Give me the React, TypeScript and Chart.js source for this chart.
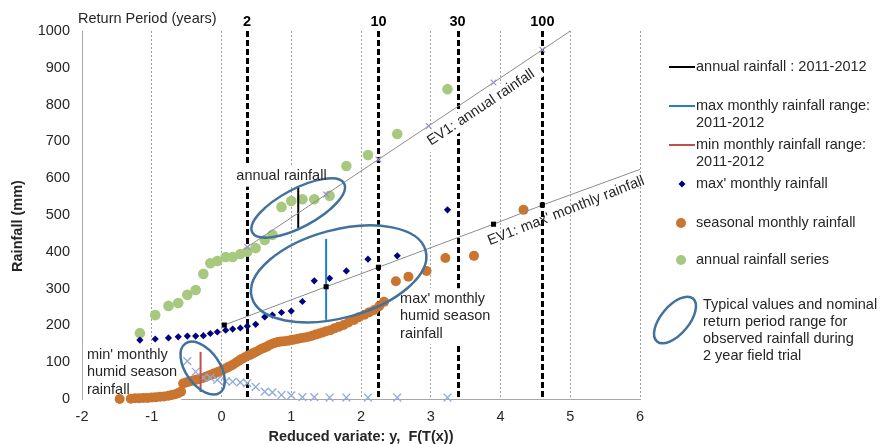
import React, { useEffect, useRef } from 'react';
import { Chart, registerables } from 'chart.js';

Chart.register(...registerables);

const FONT = '"Liberation Sans", Arial, sans-serif';
const TEXT_COLOR = '#262626';

// Return periods (years) marked by dashed lines on the top axis
const returnPeriods = [2, 10, 30, 100];

// Plotting positions (reduced variate) of the ranked 25-year series
const plotPosX = [-1.17, -0.95, -0.76, -0.62, -0.49, -0.37, -0.26, -0.16, -0.06, 0.06, 0.16, 0.27, 0.37, 0.49, 0.62, 0.73, 0.86, 1.0, 1.16, 1.33, 1.55, 1.79, 2.1, 2.52, 3.24];
const annualRainfall = [179, 228, 253, 261, 283, 296, 340, 369, 375, 386, 386, 394, 400, 410, 432, 446, 522, 538, 543, 543, 552, 633, 663, 720, 842];
const maxMonthlyRainfall = [160, 163, 166, 169, 171, 171, 172, 178, 182, 187, 190, 193, 198, 203, 223, 228, 235, 239, 265, 321, 328, 348, 380, 389, 514];

// min' monthly humid season rainfall (crosses)
const minMonthlyX = [-0.49, -0.37, -0.26, -0.16, -0.06, 0.06, 0.16, 0.27, 0.37, 0.49, 0.62, 0.73, 0.86, 1.0, 1.16, 1.33, 1.55, 1.79, 2.1, 2.52, 3.24];
const minMonthlyRainfall = [103, 74, 58, 58, 52, 48, 47, 45, 43, 33, 20, 18, 11, 10, 5, 5, 4, 4, 4, 4, 4];

// seasonal monthly rainfall (orange)
const seasonalX = [
  -1.46, -1.3, -1.24, -1.18, -1.12, -1.06, -1.0, -0.94, -0.88, -0.82, -0.76, -0.71, -0.66, -0.62, -0.58,
  -0.55, -0.51, -0.47, -0.43, -0.39, -0.35, -0.31, -0.27, -0.23, -0.19, -0.15, -0.11, -0.07, -0.03, 0.01,
  0.05, 0.09, 0.13, 0.17, 0.21, 0.25, 0.29, 0.33, 0.37, 0.41, 0.45, 0.49, 0.53, 0.57, 0.61,
  0.65, 0.69, 0.73, 0.77, 0.81, 0.85, 0.9, 0.95, 1.0, 1.05, 1.1, 1.15, 1.2, 1.25, 1.3,
  1.35, 1.4, 1.45, 1.5, 1.56, 1.62, 1.68, 1.75, 1.82, 1.9, 1.97, 2.05, 2.12, 2.19, 2.26,
  2.33, 2.5, 2.68, 2.94, 3.21, 3.62, 4.33,
];
const seasonalY = [
  0, 1, 2, 2, 3, 3, 4, 5, 6, 7, 9, 11, 13, 16, 20,
  42, 45, 47, 49, 51, 53, 55, 57, 60, 63, 66, 69, 72, 75, 78,
  82, 86, 90, 94, 99, 104, 109, 113, 117, 120, 124, 128, 132, 136, 139,
  142, 147, 150, 153, 155, 156, 157, 158, 160, 162, 164, 166, 167, 169, 172,
  175, 178, 181, 184, 187, 192, 196, 201, 208, 215, 222, 229, 236, 242, 252,
  264, 320, 332, 348, 383, 389, 514,
];

// EV1 fits
const ev1AnnualX = [0.37, 1.5, 2.25, 2.97, 3.9, 4.6, 5.0];
const ev1AnnualY = [413, 556, 651, 742, 860, 949, 1000];
const ev1MaxX = [0.04, 1.5, 2.25, 3.9, 4.6, 6.0];
const ev1MaxY = [201, 305, 358, 475, 527, 624];

// Observed 2011-2012 ranges
const annualRangeX = [1.1, 1.1];
const annualRangeY = [465, 575];
const maxRangeX = [1.5, 1.5];
const maxRangeY = [215, 435];
const minRangeX = [-0.3, -0.3];
const minRangeY = [19, 128];

const COLORS = {
  green: '#A6C97F',
  orange: '#C97530',
  navy: '#000080',
  cross: '#8FAADC',
  ev1Line: '#8C8C8C',
  ev1Mark: '#9B8FC8',
  ellipse: '#41719C',
  blue: '#1F7FD0',
  red: '#C0504D',
};

const gumbel = (T: number) => -Math.log(-Math.log(1 - 1 / T));
const pts = (xs: number[], ys: number[]) => xs.map((x, i) => ({ x, y: ys[i] }));

// annotation anchors (data coordinates)
const blockNotes = [
  { x: 0.86, y: 606, align: 'center', lines: ['annual rainfall'] },
  { x: 2.56, y: 272, align: 'left', lines: ["max' monthly", 'humid season', 'rainfall'] },
  { x: -1.93, y: 120, align: 'left', lines: ["min' monthly", 'humid season', 'rainfall'] },
];
const rotatedNotes = [
  { x: 3.72, y: 792, angle: -33.8, text: 'EV1: annual rainfall', box: true },
  { x: 4.94, y: 511, angle: -21.5, text: "EV1: max' monthly rainfall", box: false },
];
const ellipses = [
  { x: 1.1, y: 519, rx: 52, ry: 19, rot: -28 },
  { x: 1.68, y: 340, rx: 90, ry: 44, rot: -15 },
  { x: -0.27, y: 84, rx: 30, ry: 17, rot: 55 },
];

const FS = 14.5;
const LH = 17.4;

const overlayPlugin = {
  id: 'overlay',
  beforeDatasetsDraw(chart: any) {
    const { ctx, chartArea: a, scales } = chart;
    const xs = scales.x, ys = scales.y;
    ctx.save();
    ctx.strokeStyle = '#000';
    ctx.lineWidth = 3;
    ctx.setLineDash([6, 3]);
    returnPeriods.forEach((T) => {
      const px = Math.round(xs.getPixelForValue(gumbel(T))) + 0.5;
      ctx.beginPath();
      ctx.moveTo(px, a.top);
      ctx.lineTo(px, a.bottom);
      ctx.stroke();
    });
    ctx.restore();

    // white text backgrounds
    ctx.save();
    ctx.fillStyle = '#fff';
    ctx.font = `${FS}px ${FONT}`;
    blockNotes.forEach((n) => {
      const px = xs.getPixelForValue(n.x);
      const py = ys.getPixelForValue(n.y);
      const w = Math.max(...n.lines.map((l) => ctx.measureText(l).width));
      const left = n.align === 'center' ? px - w / 2 : px;
      ctx.fillRect(left - 4, py - LH / 2 - 2, w + 8, n.lines.length * LH + 4);
    });
    rotatedNotes.forEach((n) => {
      if (!n.box) return;
      const px = xs.getPixelForValue(n.x);
      const py = ys.getPixelForValue(n.y);
      const w = ctx.measureText(n.text).width;
      ctx.save();
      ctx.translate(px, py);
      ctx.rotate((n.angle * Math.PI) / 180);
      ctx.fillRect(-w / 2 - 8, -9, w + 16, 18);
      ctx.restore();
    });
    ctx.restore();
  },
  afterDatasetsDraw(chart: any) {
    const { ctx, scales } = chart;
    const xs = scales.x, ys = scales.y;
    ctx.save();
    ctx.strokeStyle = COLORS.ellipse;
    ctx.lineWidth = 2.5;
    ellipses.forEach((e) => {
      ctx.beginPath();
      ctx.ellipse(xs.getPixelForValue(e.x), ys.getPixelForValue(e.y), e.rx, e.ry, (e.rot * Math.PI) / 180, 0, Math.PI * 2);
      ctx.stroke();
    });
    ctx.fillStyle = TEXT_COLOR;
    ctx.font = `${FS}px ${FONT}`;
    ctx.textBaseline = 'middle';
    blockNotes.forEach((n) => {
      const px = xs.getPixelForValue(n.x);
      const py = ys.getPixelForValue(n.y);
      ctx.textAlign = n.align as CanvasTextAlign;
      n.lines.forEach((l, i) => ctx.fillText(l, px, py + i * LH));
    });
    ctx.textAlign = 'center';
    rotatedNotes.forEach((n) => {
      ctx.save();
      ctx.translate(xs.getPixelForValue(n.x), ys.getPixelForValue(n.y));
      ctx.rotate((n.angle * Math.PI) / 180);
      ctx.fillText(n.text, 0, 0);
      ctx.restore();
    });
    ctx.restore();
  },
  afterDraw(chart: any) {
    const { ctx, chartArea: a, scales } = chart;
    const xs = scales.x;
    ctx.save();
    ctx.fillStyle = TEXT_COLOR;
    ctx.textBaseline = 'middle';
    // top axis
    ctx.font = `${FS}px ${FONT}`;
    ctx.textAlign = 'left';
    ctx.fillText('Return Period (years)', 78, 19);
    ctx.font = `bold ${FS}px ${FONT}`;
    ctx.textAlign = 'center';
    ctx.fillStyle = '#000';
    returnPeriods.forEach((T) => {
      ctx.fillText(String(T), xs.getPixelForValue(gumbel(T)), 22);
    });
    // axis titles
    ctx.fillStyle = TEXT_COLOR;
    ctx.fillText('Reduced variate: y,  F(T(x))', (a.left + a.right) / 2, 437);
    ctx.save();
    ctx.translate(18, 226);
    ctx.rotate(-Math.PI / 2);
    ctx.fillText('Rainfall (mm)', 0, 0);
    ctx.restore();

    // legend
    ctx.font = `${FS}px ${FONT}`;
    ctx.textAlign = 'left';
    const tx = 696;
    const lineItem = (color: string, y: number, lines: string[]) => {
      ctx.save();
      ctx.strokeStyle = color;
      ctx.lineWidth = 2;
      ctx.beginPath();
      ctx.moveTo(669, y);
      ctx.lineTo(695, y);
      ctx.stroke();
      ctx.restore();
      lines.forEach((l, i) => ctx.fillText(l, tx, y + i * 17));
    };
    lineItem('#000', 67, ['annual rainfall : 2011-2012']);
    lineItem(COLORS.blue, 106, ['max monthly rainfall range:', '2011-2012']);
    lineItem(COLORS.red, 145, ['min monthly rainfall range:', '2011-2012']);
    ctx.save();
    ctx.fillStyle = COLORS.navy;
    ctx.beginPath();
    ctx.moveTo(682, 184 - 3.5);
    ctx.lineTo(682 + 3.5, 184);
    ctx.lineTo(682, 184 + 3.5);
    ctx.lineTo(682 - 3.5, 184);
    ctx.closePath();
    ctx.fill();
    ctx.fillStyle = COLORS.orange;
    ctx.beginPath();
    ctx.arc(681, 223, 5, 0, Math.PI * 2);
    ctx.fill();
    ctx.fillStyle = COLORS.green;
    ctx.beginPath();
    ctx.arc(681, 260, 5, 0, Math.PI * 2);
    ctx.fill();
    ctx.strokeStyle = COLORS.ellipse;
    ctx.lineWidth = 2.5;
    ctx.beginPath();
    ctx.ellipse(675, 320, 28, 14, (-50 * Math.PI) / 180, 0, Math.PI * 2);
    ctx.stroke();
    ctx.restore();
    ctx.fillText("max' monthly rainfall", tx, 184);
    ctx.fillText('seasonal monthly rainfall', tx, 223);
    ctx.fillText('annual rainfall series', tx, 260);
    ['Typical values and nominal', 'return period range for', 'observed rainfall during', '2 year field trial'].forEach((l, i) =>
      ctx.fillText(l, 703, 305 + i * 17)
    );
    ctx.restore();
  },
};

export default function App() {
  const ref = useRef<HTMLCanvasElement>(null);
  useEffect(() => {
    if (!ref.current) return;
    const chart = new Chart(ref.current, {
      type: 'scatter',
      data: {
        datasets: [
          {
            label: "EV1: max' monthly rainfall",
            data: pts(ev1MaxX, ev1MaxY),
            showLine: true,
            borderColor: COLORS.ev1Line,
            borderWidth: 1,
            pointStyle: 'rect',
            pointRadius: ev1MaxX.map((_, i) => (i === ev1MaxX.length - 1 ? 0 : 3.6)),
            pointBackgroundColor: '#000',
            pointBorderColor: '#000',
            pointBorderWidth: 0,
            clip: false,
          },
          {
            label: 'EV1: annual rainfall',
            data: pts(ev1AnnualX, ev1AnnualY),
            showLine: true,
            borderColor: COLORS.ev1Line,
            borderWidth: 1,
            pointStyle: 'crossRot',
            pointRadius: ev1AnnualX.map((_, i) => (i === ev1AnnualX.length - 1 ? 0 : 4)),
            pointBorderColor: COLORS.ev1Mark,
            pointBorderWidth: 1.2,
            clip: false,
          },
          {
            label: 'annual rainfall : 2011-2012',
            data: pts(annualRangeX, annualRangeY),
            showLine: true,
            borderColor: '#000',
            borderWidth: 2,
            pointRadius: 0,
          },
          {
            label: 'max monthly rainfall range: 2011-2012',
            data: pts(maxRangeX, maxRangeY),
            showLine: true,
            borderColor: COLORS.blue,
            borderWidth: 2,
            pointRadius: 0,
          },
          {
            label: 'min monthly rainfall range: 2011-2012',
            data: pts(minRangeX, minRangeY),
            showLine: true,
            borderColor: COLORS.red,
            borderWidth: 2,
            pointRadius: 0,
          },
          {
            label: "min' monthly rainfall",
            data: pts(minMonthlyX, minMonthlyRainfall),
            pointStyle: 'crossRot',
            pointRadius: 5.5,
            pointBorderColor: COLORS.cross,
            pointBorderWidth: 1.3,
            clip: false,
          },
          {
            label: "max' monthly rainfall",
            data: pts(plotPosX, maxMonthlyRainfall),
            pointStyle: 'rectRot',
            pointRadius: 3.6,
            pointBackgroundColor: COLORS.navy,
            pointBorderColor: COLORS.navy,
            pointBorderWidth: 0,
            clip: false,
          },
          {
            label: 'annual rainfall series',
            data: pts(plotPosX, annualRainfall),
            pointStyle: 'circle',
            pointRadius: 5.3,
            pointBackgroundColor: COLORS.green,
            pointBorderColor: COLORS.green,
            pointBorderWidth: 0,
            clip: false,
          },
          {
            label: 'seasonal monthly rainfall',
            data: pts(seasonalX, seasonalY),
            pointStyle: 'circle',
            pointRadius: 5,
            pointBackgroundColor: COLORS.orange,
            pointBorderColor: COLORS.orange,
            pointBorderWidth: 0,
            clip: false,
          },
        ],
      },
      options: {
        responsive: false,
        devicePixelRatio: 1,
        animation: false,
        events: [],
        layout: { padding: { left: 0, right: 243, top: 31, bottom: 0 } },
        plugins: { legend: { display: false }, tooltip: { enabled: false } },
        scales: {
          x: {
            type: 'linear',
            min: -2,
            max: 6,
            ticks: {
              stepSize: 1,
              color: TEXT_COLOR,
              font: { family: FONT, size: FS },
              padding: 9,
              callback: (v: any) => String(v),
            },
            grid: { display: true, color: '#A0A0A0', lineWidth: 1, drawTicks: false },
            border: { display: true, color: '#A6A6A6', width: 1, dash: [2, 2] },
            afterFit: (s: any) => {
              s.height = 45;
            },
          },
          y: {
            type: 'linear',
            min: 0,
            max: 1000,
            ticks: {
              stepSize: 100,
              color: TEXT_COLOR,
              font: { family: FONT, size: FS },
              padding: 12,
              callback: (v: any) => String(v),
            },
            grid: { display: false, drawTicks: false },
            border: { display: true, color: '#A6A6A6', width: 1 },
            afterFit: (s: any) => {
              s.width = 82;
            },
          },
        },
      } as any,
      plugins: [overlayPlugin],
    });
    return () => chart.destroy();
  }, []);

  return (
    <div style={{ position: 'absolute', left: 0, top: 0, width: 883, height: 444, background: '#fff' }}>
      <canvas ref={ref} width={883} height={444} style={{ display: 'block' }} />
    </div>
  );
}
